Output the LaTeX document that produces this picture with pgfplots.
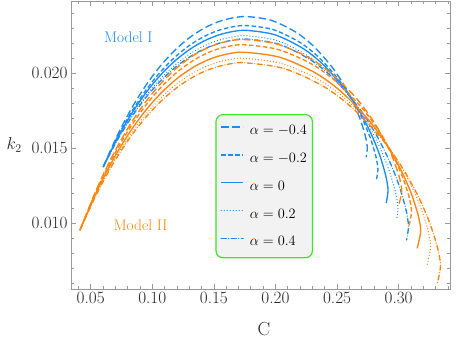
\documentclass[border=0pt]{standalone}
\usepackage{fontspec}
\usepackage{pgfplots}
\pgfplotsset{compat=1.18}
\definecolor{mblue}{RGB}{28,140,240}
\definecolor{morange}{RGB}{255,133,13}
\definecolor{lgreen}{RGB}{60,232,40}
\tikzset{
  lda/.style={dash pattern=on 7.5bp off 3.5bp},
  da/.style={dash pattern=on 4.5bp off 2.5bp},
  dt/.style={dash pattern=on 0.01bp off 3bp, line cap=round},
  dd/.style={dash pattern=on 5bp off 2.5bp on 0.01bp off 2.5bp, line cap=round},
}
\begin{document}
\begin{tikzpicture}
\path[use as bounding box] (-71bp,-51bp) rectangle (387bp,289bp);
\begin{axis}[
  scale only axis, width=379bp, height=288bp,
  xmin=0.034, xmax=0.3417, ymin=0.00562, ymax=0.02482,
  scaled x ticks=false, scaled y ticks=false,
  xtick={0.05,0.1,0.15,0.2,0.25,0.3},
  xticklabels={0.05,0.10,0.15,0.20,0.25,0.30},
  ytick={0.01,0.015,0.02},
  yticklabels={0.010,0.015,0.020},
  minor xtick={0.04,0.06,0.07,0.08,0.09,0.11,0.12,0.13,0.14,0.16,0.17,0.18,0.19,0.21,0.22,0.23,0.24,0.26,0.27,0.28,0.29,0.31,0.32,0.33,0.34},
  minor ytick={0.006,0.007,0.008,0.009,0.011,0.012,0.013,0.014,0.016,0.017,0.018,0.019,0.021,0.022,0.023,0.024},
  tick align=inside,
  major tick length=5bp, minor tick length=2.8bp,
  axis line style={draw=black!40, line width=0.8bp},
  tick style={draw=black!40, line width=0.7bp},
  tick label style={font=\fontsize{17.28}{20}\selectfont, text=black!85},
  xlabel={C},
  xlabel style={font=\fontsize{19}{22}\selectfont, text=black!85, at={(axis description cs:0.509,-0.138)}, anchor=center},
  ylabel={$k_2$},
  ylabel style={rotate=-90, font=\fontsize{17.28}{20}\selectfont, text=black!85, at={(axis description cs:-0.15,0.5)}, anchor=center},
  every axis plot/.append style={line width=1.35bp, smooth},
  legend style={at={(axis description cs:0.381,0.6076)}, anchor=north west,
    draw=lgreen, line width=1.2bp, fill=black!5, rounded corners=7bp,
    inner xsep=4.5bp, inner ysep=9.5bp, row sep=14.8bp, column sep=5bp,
    font=\fontsize{14.4}{16}\selectfont, text=black,
    nodes={inner sep=1bp, text height=9.5bp, text depth=1.5bp}},
  legend cell align=left,
  legend image code/.code={\draw[#1, line width=1.4bp] (0bp,3.5bp) -- (22bp,3.5bp);},
]
% ---- Model I (blue) ----
\addplot[mblue, lda] coordinates {(0.0602,0.01377) (0.07188,0.015903) (0.08356,0.01772) (0.09524,0.01925) (0.10692,0.020523) (0.1186,0.021559) (0.13028,0.02238) (0.14196,0.023002) (0.15364,0.023438) (0.16532,0.023695) (0.177,0.02378) (0.19652,0.023532) (0.21604,0.022771) (0.23068,0.021823) (0.24532,0.02048) (0.25508,0.019294) (0.26289,0.018097) (0.26874,0.016948) (0.27265,0.015916) (0.27411,0.015349) (0.2746,0.0150) (0.27411,0.014651) (0.2736,0.0144)};
\addlegendentry{$\alpha = -0.4$\hspace{3bp}}
\addplot[mblue, da] coordinates {(0.0602,0.01377) (0.07188,0.015775) (0.08356,0.017483) (0.09524,0.018922) (0.10692,0.020118) (0.1186,0.021092) (0.13028,0.021864) (0.14196,0.022449) (0.15364,0.022858) (0.16532,0.0231) (0.177,0.02318) (0.19824,0.02291) (0.21948,0.022079) (0.23541,0.021045) (0.25134,0.01958) (0.26196,0.018286) (0.27046,0.016979) (0.27683,0.015726) (0.28108,0.014599) (0.28267,0.01398) (0.2832,0.0136) (0.28267,0.01322) (0.2817,0.01282)};
\addlegendentry{$\alpha = -0.2$}
\addplot[mblue] coordinates {(0.0602,0.01377) (0.07188,0.015707) (0.08356,0.017357) (0.09524,0.018747) (0.10692,0.019902) (0.1186,0.020843) (0.13028,0.021589) (0.14196,0.022154) (0.15364,0.022549) (0.16532,0.022783) (0.177,0.02286) (0.19988,0.022559) (0.22276,0.021635) (0.23992,0.020484) (0.25708,0.018854) (0.26852,0.017414) (0.27767,0.01596) (0.28454,0.014565) (0.28911,0.013312) (0.29083,0.012623) (0.2914,0.0122) (0.29083,0.011777) (0.2899,0.01135)};
\addlegendentry{$\alpha = 0$}
\addplot[mblue, dt] coordinates {(0.0602,0.01377) (0.07188,0.01563) (0.08356,0.017215) (0.09524,0.01855) (0.10692,0.019659) (0.1186,0.020563) (0.13028,0.02128) (0.14196,0.021822) (0.15364,0.022201) (0.16532,0.022426) (0.177,0.0225) (0.2015,0.022176) (0.226,0.021179) (0.24438,0.019937) (0.26275,0.018178) (0.275,0.016625) (0.2848,0.015056) (0.29215,0.013552) (0.29705,0.0122) (0.29889,0.011457) (0.2995,0.011) (0.29889,0.010543) (0.2982,0.01022)};
\addlegendentry{$\alpha = 0.2$}
\addplot[mblue, dd] coordinates {(0.0602,0.01377) (0.07188,0.015583) (0.08356,0.017128) (0.09524,0.018429) (0.10692,0.019511) (0.1186,0.020392) (0.13028,0.02109) (0.14196,0.021619) (0.15364,0.021989) (0.16532,0.022208) (0.177,0.02228) (0.2032,0.021928) (0.2294,0.020846) (0.24905,0.019498) (0.2687,0.01759) (0.2818,0.015904) (0.29228,0.014202) (0.30014,0.012569) (0.30538,0.011102) (0.30735,0.010295) (0.308,0.0098) (0.30735,0.009305) (0.3064,0.00889)};
\addlegendentry{$\alpha = 0.4$}
% ---- Model II (orange) ----
\addplot[morange, lda, forget plot] coordinates {(0.0413,0.00955) (0.05467,0.012256) (0.06804,0.014561) (0.08141,0.016503) (0.09478,0.018117) (0.10815,0.019432) (0.12152,0.020475) (0.13489,0.021263) (0.14826,0.021816) (0.16163,0.022142) (0.175,0.02225) (0.2005,0.021967) (0.226,0.021095) (0.24513,0.02001) (0.26425,0.018473) (0.277,0.017115) (0.2872,0.015745) (0.29485,0.01443) (0.29995,0.013248) (0.30186,0.012599) (0.3025,0.0122) (0.30186,0.011801) (0.2998,0.0111)};
\addplot[morange, da, forget plot] coordinates {(0.0413,0.00955) (0.05467,0.012182) (0.06804,0.014423) (0.08141,0.016312) (0.09478,0.017881) (0.10815,0.01916) (0.12152,0.020173) (0.13489,0.02094) (0.14826,0.021478) (0.16163,0.021795) (0.175,0.0219) (0.2021,0.021587) (0.2292,0.020625) (0.24953,0.019426) (0.26985,0.017729) (0.2834,0.016229) (0.29424,0.014715) (0.30237,0.013263) (0.30779,0.011958) (0.30982,0.011241) (0.3105,0.0108) (0.30982,0.010359) (0.3084,0.00983)};
\addplot[morange, forget plot] coordinates {(0.0413,0.00955) (0.05467,0.012075) (0.06804,0.014226) (0.08141,0.016038) (0.09478,0.017544) (0.10815,0.01877) (0.12152,0.019743) (0.13489,0.020479) (0.14826,0.020995) (0.16163,0.021299) (0.175,0.0214) (0.20358,0.021066) (0.23216,0.020038) (0.2536,0.018759) (0.27503,0.016947) (0.28932,0.015346) (0.30075,0.01373) (0.30933,0.012179) (0.31504,0.010786) (0.31719,0.01002) (0.3179,0.00955) (0.31719,0.00908) (0.3151,0.00833)};
\addplot[morange, dt, forget plot] coordinates {(0.0413,0.00955) (0.05467,0.01199) (0.06804,0.014068) (0.08141,0.015819) (0.09478,0.017274) (0.10815,0.018459) (0.12152,0.019399) (0.13489,0.02011) (0.14826,0.020608) (0.16163,0.020903) (0.175,0.021) (0.2052,0.020647) (0.2354,0.019563) (0.25805,0.018212) (0.2807,0.016299) (0.2958,0.014609) (0.30788,0.012902) (0.31694,0.011266) (0.32298,0.009795) (0.32525,0.008987) (0.326,0.00849) (0.32525,0.007993) (0.3232,0.007253)};
\addplot[morange, dd, forget plot] coordinates {(0.0413,0.00955) (0.05467,0.011926) (0.06804,0.01395) (0.08141,0.015655) (0.09478,0.017072) (0.10815,0.018226) (0.12152,0.019141) (0.13489,0.019834) (0.14826,0.020319) (0.16163,0.020605) (0.175,0.0207) (0.2068,0.020319) (0.2386,0.019149) (0.26245,0.017691) (0.2863,0.015627) (0.3022,0.013803) (0.31492,0.011961) (0.32446,0.010196) (0.33082,0.008608) (0.33321,0.007736) (0.334,0.0072) (0.33321,0.006664) (0.3313,0.0060)};
\node[text=mblue, font=\fontsize{15.5}{18}\selectfont] at (axis cs:0.0805,0.02239) {Model I};
\node[text=morange, font=\fontsize{15.5}{18}\selectfont] at (axis cs:0.0904,0.00985) {Model II};
\end{axis}
\end{tikzpicture}
\end{document}
